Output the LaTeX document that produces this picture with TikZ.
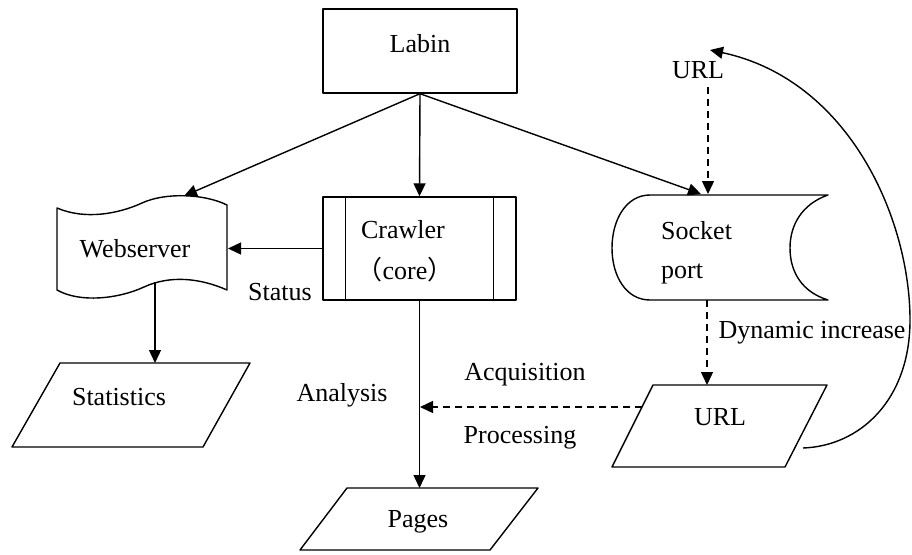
\documentclass[tikz,border=0pt]{standalone}
\usepackage{fontspec}
\setmainfont{Liberation Serif}
\newfontfamily\cjk{Noto Sans CJK SC}
\usetikzlibrary{arrows.meta,calc}
\tikzset{
  shp/.style={draw=black, line width=1.4pt, line join=round},
  arr/.style={draw=black, line width=1.4pt, -{Triangle[length=13pt,width=12pt]}},
  darr/.style={arr, dash pattern=on 7pt off 5pt},
  txt/.style={inner sep=0pt, font=\fontsize{26}{31}\selectfont},
}
\begin{document}
\begin{tikzpicture}[x=1pt,y=-1pt]
\useasboundingbox (0,0) rectangle (912,554);
\fill[white] (0,0) rectangle (912,554);

% Labin box
\node[shp, minimum width=194pt, minimum height=84pt, inner sep=0pt] (labin) at (420,51) {};
\node[txt] (labintxt) at (420,44) {Labin};

% Webserver (tape shape)
\draw[shp] (57,208) .. controls (85,220) and (118,214) .. (142,203)
  .. controls (166,192) and (205,194) .. (227,205) -- (227,290)
  .. controls (200,278) and (170,275) .. (144,287)
  .. controls (118,299) and (80,303) .. (57,290) -- cycle;
\node[txt] (webtxt) at (135,249) {Webserver};
\coordinate (wstop) at (184,196);
\coordinate (wsright) at (228,248.5);
\coordinate (wsbot) at (155,282);

% Crawler (predefined process)
\node[shp, minimum width=193pt, minimum height=103pt, inner sep=0pt] (crawler) at (419.5,248.5) {};
\draw[shp] ($(crawler.north west)+(23,0)$) -- ($(crawler.south west)+(23,0)$);
\draw[shp] ($(crawler.north east)+(-23,0)$) -- ($(crawler.south east)+(-23,0)$);
\node[txt] (crtxt) at (403,230) {Crawler};
\node[txt] (coretxt) at (405,270) {{\cjk （}core{\cjk ）}};

% Socket port (stored data)
\draw[shp] (650,195) -- (828,195) .. controls (802,204) and (790,225) .. (790,248)
  .. controls (790,272) and (802,292) .. (828,300) -- (650,300)
  .. controls (626,300) and (612,276) .. (612,248)
  .. controls (612,220) and (626,195) .. (650,195) -- cycle;
\node[txt, anchor=base west] (socktxt) at (661,239) {Socket};
\node[txt, anchor=base west] (porttxt) at (661,278) {port};
\coordinate (socktop) at (701,194);
\coordinate (sockin) at (708,194);
\coordinate (sockbot) at (707,300);

% URL label on top
\node[txt] (urltop) at (698,70) {URL};

% Statistics parallelogram
\draw[shp] (60,363) -- (250,363) -- (203,447) -- (12,447) -- cycle;
\node[txt] (stattxt) at (119,397) {Statistics};
\coordinate (stattop) at (155,363);

% Pages parallelogram
\draw[shp] (347,488) -- (538,488) -- (490,550) -- (300,550) -- cycle;
\node[txt] (pagestxt) at (418,522) {Pages};
\coordinate (pagestop) at (419.5,488);

% URL parallelogram
\draw[shp] (653,385) -- (827,385) -- (785,467) -- (612,467) -- cycle;
\node[txt] (urltxt) at (720,417) {URL};
\coordinate (urlptop) at (707,385);
\coordinate (urlleft) at (642,407);
\coordinate (urlright) at (803,448);
\coordinate (analysispt) at (420,407);
\coordinate (loopend) at (710,50);

% Labels
\node[txt] (status) at (280,292) {Status};
\node[txt] (analysis) at (342,395) {Analysis};
\node[txt] (acq) at (525,375) {Acquisition};
\node[txt] (proc) at (520,438) {Processing};
\node[txt] (dyn) at (812,333) {Dynamic increase};

% Connectors
\draw[arr] (labin.south) -- (wstop);
\draw[arr] (labin.south) -- (crawler.north);
\draw[arr] (labin.south) -- (socktop);
\draw[arr] (crawler.west) -- (wsright);
\draw[arr] (wsbot) -- (stattop);
\draw[arr] (crawler.south) -- (pagestop);
\draw[darr] (urltop.south -| sockin) ++(0,8) -- (sockin);
\draw[darr] (sockbot) -- (urlptop);
\draw[darr] (urlleft) -- (analysispt);
\draw[arr] (urlright) .. controls (860,446) and (910,400) .. (910,320)
  .. controls (910,220) and (850,80) .. (loopend);
\end{tikzpicture}
\end{document}
